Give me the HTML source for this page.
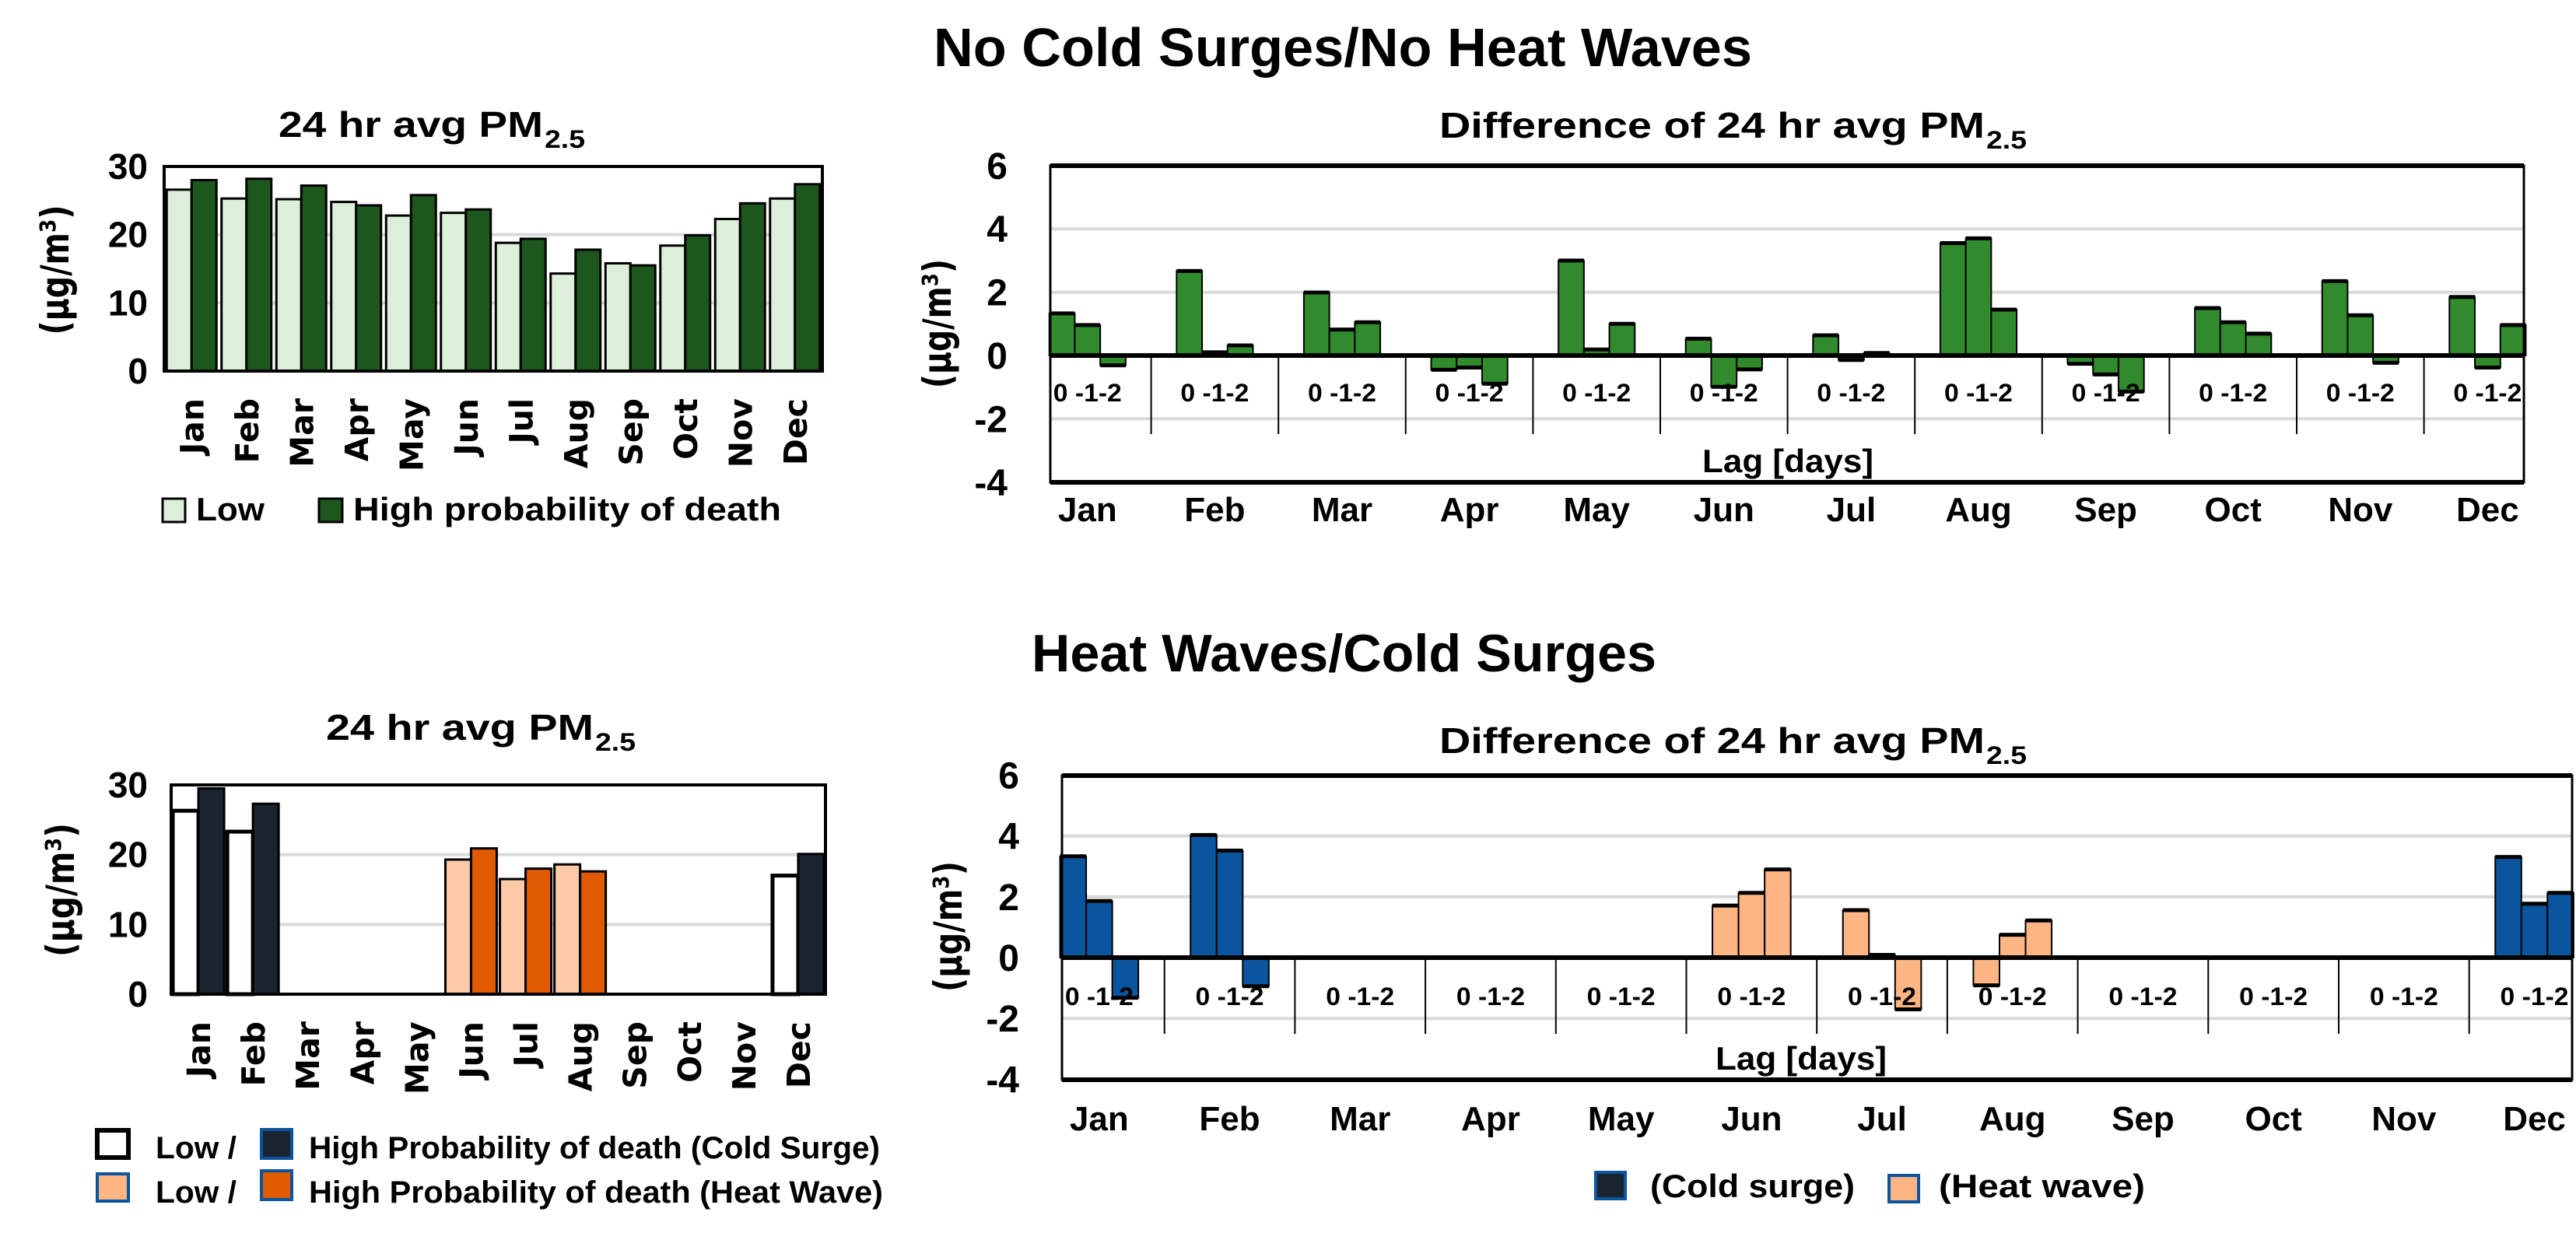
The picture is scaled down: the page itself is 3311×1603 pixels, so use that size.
<!DOCTYPE html>
<html><head><meta charset="utf-8">
<style>
html,body{margin:0;padding:0;background:#fff;}
svg{display:block;}
text{font-family:"Liberation Sans","DejaVu Sans",sans-serif;font-weight:bold;fill:#000;}
.w{font-family:"DejaVu Sans","Liberation Sans",sans-serif;}
</style></head>
<body>
<svg id="fig" xmlns="http://www.w3.org/2000/svg" width="3311" height="1603" viewBox="0 0 3311 1603">
<text x="1200" y="85" font-size="70" textLength="1052" lengthAdjust="spacingAndGlyphs">No Cold Surges/No Heat Waves</text>
<text x="1326" y="863" font-size="68" textLength="803" lengthAdjust="spacingAndGlyphs">Heat Waves/Cold Surges</text>
</svg>
<script>
const months = ['Jan','Feb','Mar','Apr','May','Jun','Jul','Aug','Sep','Oct','Nov','Dec'];
// top-left: monthly 24hr avg PM2.5
const tlLow  = [26.6,25.3,25.2,24.8,22.8,23.2,18.8,14.3,15.8,18.4,22.3,25.3];
const tlHigh = [28.0,28.2,27.2,24.3,25.8,23.7,19.4,17.8,15.5,19.9,24.6,27.4];
const tlTicks = [0,10,20,30];
// top-right: differences at lag 0,1,2
const trLag0 = [1.33,2.67,1.99,-0.45,3.0,0.53,0.64,3.55,-0.26,1.5,2.35,1.85];
const trLag1 = [0.96,0.10,0.82,-0.38,0.19,-0.99,-0.14,3.70,-0.60,1.05,1.27,-0.38];
const trLag2 = [-0.31,0.32,1.05,-0.89,1.0,-0.44,0.08,1.45,-1.14,0.69,-0.23,0.96];
const diffTicks = [-4,-2,0,2,4,6];
// bottom-left: extreme event months (null = none)
const blLow  = [26.3,23.3,null,null,null,19.3,16.5,18.6,null,null,null,17.0];
const blHigh = [29.5,27.3,null,null,null,20.9,18.0,17.6,null,null,null,20.1];
const blType = ['c','c',null,null,null,'h','h','h',null,null,null,'c'];
// bottom-right: differences during extremes
const brLag0 = [3.33,4.03,0,0,0,1.71,1.56,-0.91,0,0,0,3.31];
const brLag1 = [1.86,3.52,0,0,0,2.13,0.09,0.75,0,0,0,1.77];
const brLag2 = [-1.32,-0.94,0,0,0,2.90,-1.70,1.22,0,0,0,2.13];

const svg = document.getElementById('fig');
const NS = 'http://www.w3.org/2000/svg';
function mk(tag, attrs, name, inter) {
  const el = document.createElementNS(NS, tag);
  for (const k in attrs) el.setAttribute(k, attrs[k]);
  
  
  svg.appendChild(el);
  return el;
}
function txt(x, y, s, size, name, extra) {
  const a = Object.assign({x: x, y: y, 'font-size': size}, extra || {});
  const el = mk('text', a, name, false);
  el.textContent = s;
  return el;
}
function title(x, y, w, name) {
  txt(x, y, '24 hr avg PM', 46, name, {textLength: w, lengthAdjust: 'spacingAndGlyphs'});
  txt(x + w + 2, y + 14, '2.5', 32, name + '-subscript', {textLength: 52, lengthAdjust: 'spacingAndGlyphs'});
}
function ytitle(cx, cy, len, name) {
  txt(0, 0, '(µg/m³)', 50, name, {class: 'w', 'text-anchor': 'middle', textLength: len, lengthAdjust: 'spacingAndGlyphs', transform: 'translate(' + (cx + 17) + ',' + cy + ') rotate(-90)'});
}

/* ---------- TOP LEFT ---------- */
(function () {
  const L = 211, R = 1057, T = 214, B = 477;
  const y = v => B - v * (B - T) / 30;
  const cw = (R - L) / 12;
  const cx = i => L + (i + 0.5) * cw;
  tlTicks.forEach(t => {
    if (t > 0 && t < 30) mk('line', {x1: L, x2: R, y1: y(t), y2: y(t), stroke: '#d9d9d9', 'stroke-width': 4}, 'gridline-' + t, false);
    txt(190, y(t) + 16, String(t), 46, 'y-tick-' + t, {'text-anchor': 'end'});
  });
  months.forEach((m, i) => {
    mk('rect', {x: cx(i) - 32, y: y(tlLow[i]), width: 32, height: B - y(tlLow[i]), fill: '#dcefd9', stroke: '#000', 'stroke-width': 3}, 'bar-low-' + m.toLowerCase(), false);
    mk('rect', {x: cx(i), y: y(tlHigh[i]), width: 32, height: B - y(tlHigh[i]), fill: '#1e571e', stroke: '#000', 'stroke-width': 3}, 'bar-high-' + m.toLowerCase(), false);
    txt(0, 0, m, 41, 'x-label-' + m.toLowerCase(), {class: 'w', 'text-anchor': 'end', transform: 'translate(' + (cx(i) + 15) + ',512) rotate(-90)'});
  });
  mk('rect', {x: L, y: T, width: R - L, height: B - T, fill: 'none', stroke: '#000', 'stroke-width': 4}, 'plot-frame', false);
  title(358, 176, 340, 'chart-title');
  ytitle(71, 347, 167, 'y-axis-title');
  mk('rect', {x: 209, y: 641, width: 29, height: 30, fill: '#dcefd9', stroke: '#000', 'stroke-width': 3}, 'legend-swatch-low', false);
  txt(252, 669, 'Low', 42, 'legend-label-low', {textLength: 88, lengthAdjust: 'spacingAndGlyphs'});
  mk('rect', {x: 410, y: 641, width: 30, height: 30, fill: '#1e571e', stroke: '#000', 'stroke-width': 3}, 'legend-swatch-high', false);
  txt(454, 669, 'High probability of death', 42, 'legend-label-high', {textLength: 550, lengthAdjust: 'spacingAndGlyphs'});
})();

/* ---------- generic diff chart ---------- */
function diffChart(o) {
  const y = v => o.zero - v * o.unit;
  const cx = i => o.c0 + (i + 0.5) * o.cw;
  const bw = o.cw * 0.2;
  diffTicks.forEach(t => {
    if (t === 2 || t === 4 || t === -2) mk('line', {x1: o.L, x2: o.R, y1: y(t), y2: y(t), stroke: '#d9d9d9', 'stroke-width': 4}, o.p + 'gridline-' + t, false);
    txt(o.tx, y(t) + 17, t < 0 ? '-' + Math.abs(t) : String(t), 48, o.p + 'y-tick-' + t, {'text-anchor': 'end'});
  });
  const lags = [o.l0, o.l1, o.l2];
  months.forEach((m, i) => {
    lags.forEach((arr, j) => {
      const v = arr[i];
      if (!v) return;
      const x = cx(i) - 1.5 * bw + j * bw;
      const col = o.color(i);
      mk('rect', {x: x, y: Math.min(y(v), o.zero), width: bw, height: Math.abs(y(v) - o.zero), fill: col, stroke: '#000', 'stroke-width': 2}, o.p + 'bar-' + m.toLowerCase() + '-lag' + j, false);
      mk('line', {x1: x, x2: x + bw, y1: y(v), y2: y(v), stroke: '#000', 'stroke-width': 5}, o.p + 'bar-end-' + m.toLowerCase() + '-lag' + j, false);
    });
    if (i > 0) mk('line', {x1: o.c0 + i * o.cw, x2: o.c0 + i * o.cw, y1: o.zero, y2: o.divB, stroke: '#000', 'stroke-width': 2}, o.p + 'category-divider', false);
    txt(cx(i), o.lagY, '0 -1-2', 32, o.p + 'lag-label-' + m.toLowerCase(), {'text-anchor': 'middle', textLength: 88, lengthAdjust: 'spacingAndGlyphs'});
    txt(cx(i), o.mY, m, 44, o.p + 'x-label-' + m.toLowerCase(), {'text-anchor': 'middle'});
  });
  mk('line', {x1: o.L, x2: o.R, y1: o.zero, y2: o.zero, stroke: '#000', 'stroke-width': 6}, o.p + 'zero-line', false);
  mk('rect', {x: o.L, y: o.T, width: o.R - o.L, height: o.B - o.T, fill: 'none', stroke: '#000', 'stroke-width': 3}, o.p + 'plot-frame', false);
  mk('line', {x1: o.L, x2: o.R, y1: o.T, y2: o.T, stroke: '#000', 'stroke-width': 6}, o.p + 'top-border', false);
  mk('line', {x1: o.L, x2: o.R, y1: o.B, y2: o.B, stroke: '#000', 'stroke-width': 6}, o.p + 'bottom-border', false);
  txt(o.lagX, o.lagTY, 'Lag [days]', 42, o.p + 'x-axis-title', {'text-anchor': 'middle', textLength: 220, lengthAdjust: 'spacingAndGlyphs'});
  txt(1850, o.titleY, 'Difference of 24 hr avg PM', 46, o.p + 'chart-title', {textLength: 701, lengthAdjust: 'spacingAndGlyphs'});
  txt(2553, o.titleY + 14, '2.5', 32, o.p + 'chart-title-subscript', {textLength: 52, lengthAdjust: 'spacingAndGlyphs'});
}

diffChart({p: 'tr-', L: 1350, R: 3244, T: 213, B: 620, zero: 457, unit: 40.7, c0: 1316, cw: 163.6,
  l0: trLag0, l1: trLag1, l2: trLag2, color: () => '#318a2b', tx: 1295, lagY: 516, divB: 558,
  mY: 670, lagX: 2298, lagTY: 607, titleY: 177});
ytitle(1205, 416, 166, 'tr-y-axis-title');

diffChart({p: 'br-', L: 1365, R: 3306, T: 997, B: 1388, zero: 1231, unit: 39.1, c0: 1329, cw: 167.7,
  l0: brLag0, l1: brLag1, l2: brLag2, color: i => (i < 2 || i === 11) ? '#0b559f' : '#fdb583', tx: 1310, lagY: 1292, divB: 1329,
  mY: 1453, lagX: 2315, lagTY: 1375, titleY: 968});
ytitle(1219, 1191, 168, 'br-y-axis-title');

/* ---------- BOTTOM LEFT ---------- */
(function () {
  const L = 220, R = 1061, T = 1009, B = 1278;
  const y = v => B - v * (B - T) / 30;
  const cw = (R - L) / 12;
  const cx = i => L + (i + 0.5) * cw;
  tlTicks.forEach(t => {
    if (t > 0 && t < 30) mk('line', {x1: L, x2: R, y1: y(t), y2: y(t), stroke: '#d9d9d9', 'stroke-width': 4}, 'bl-gridline-' + t, false);
    txt(190, y(t) + 16, String(t), 46, 'bl-y-tick-' + t, {'text-anchor': 'end'});
  });
  months.forEach((m, i) => {
    if (blLow[i] != null) {
      const cold = blType[i] === 'c';
      mk('rect', {x: cx(i) - 33, y: y(blLow[i]), width: 33, height: B - y(blLow[i]), fill: cold ? '#ffffff' : '#fdcaa8', stroke: '#000', 'stroke-width': cold ? 5 : 3}, 'bl-bar-low-' + m.toLowerCase(), false);
      mk('rect', {x: cx(i), y: y(blHigh[i]), width: 33, height: B - y(blHigh[i]), fill: cold ? '#1a2531' : '#e05a00', stroke: '#000', 'stroke-width': 3}, 'bl-bar-high-' + m.toLowerCase(), false);
    }
    txt(0, 0, m, 41, 'bl-x-label-' + m.toLowerCase(), {class: 'w', 'text-anchor': 'end', transform: 'translate(' + (cx(i) + 15) + ',1313) rotate(-90)'});
  });
  mk('rect', {x: L, y: T, width: R - L, height: B - T, fill: 'none', stroke: '#000', 'stroke-width': 4}, 'bl-plot-frame', false);
  title(419, 951, 344, 'bl-chart-title');
  ytitle(78, 1144, 172, 'bl-y-axis-title');
  mk('rect', {x: 125, y: 1453, width: 40, height: 35, fill: '#fff', stroke: '#000', 'stroke-width': 6}, 'bl-legend-swatch-low-cold', false);
  txt(200, 1489, 'Low /', 40, 'bl-legend-label-low-cold', {textLength: 104, lengthAdjust: 'spacingAndGlyphs'});
  mk('rect', {x: 336, y: 1452, width: 39, height: 37, fill: '#1a2531', stroke: '#0b559f', 'stroke-width': 4}, 'bl-legend-swatch-high-cold', false);
  txt(397, 1489, 'High Probability of death (Cold Surge)', 40, 'bl-legend-label-high-cold', {textLength: 734, lengthAdjust: 'spacingAndGlyphs'});
  mk('rect', {x: 125, y: 1509, width: 40, height: 35, fill: '#fdb584', stroke: '#0b559f', 'stroke-width': 4}, 'bl-legend-swatch-low-heat', false);
  txt(200, 1546, 'Low /', 40, 'bl-legend-label-low-heat', {textLength: 104, lengthAdjust: 'spacingAndGlyphs'});
  mk('rect', {x: 336, y: 1505, width: 39, height: 37, fill: '#e05a00', stroke: '#0b559f', 'stroke-width': 4}, 'bl-legend-swatch-high-heat', false);
  txt(397, 1546, 'High Probability of death (Heat Wave)', 40, 'bl-legend-label-high-heat', {textLength: 738, lengthAdjust: 'spacingAndGlyphs'});
})();

/* bottom-right legend */
mk('rect', {x: 2051, y: 1507, width: 38, height: 34, fill: '#1a2531', stroke: '#0b559f', 'stroke-width': 4}, 'br-legend-swatch-cold', false);
txt(2121, 1539, '(Cold surge)', 42, 'br-legend-label-cold', {textLength: 263, lengthAdjust: 'spacingAndGlyphs'});
mk('rect', {x: 2428, y: 1511, width: 38, height: 34, fill: '#fdb584', stroke: '#0b559f', 'stroke-width': 4}, 'br-legend-swatch-heat', false);
txt(2492, 1539, '(Heat wave)', 42, 'br-legend-label-heat', {textLength: 265, lengthAdjust: 'spacingAndGlyphs'});
</script>
</body></html>
